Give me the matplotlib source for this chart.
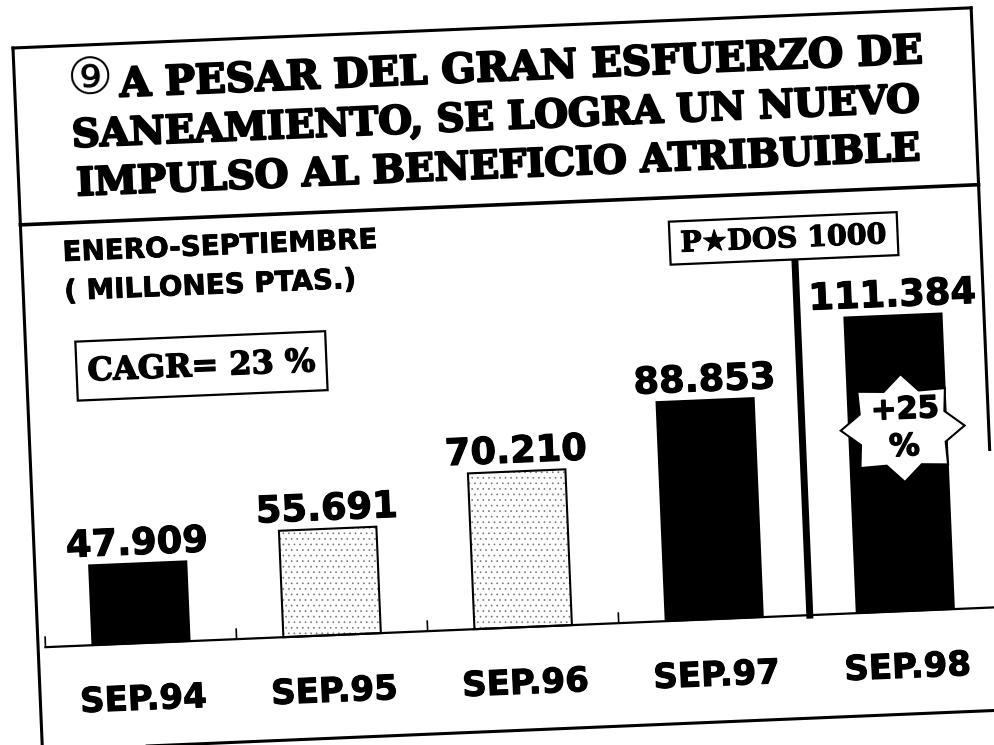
import matplotlib
matplotlib.use("Agg")
import matplotlib.pyplot as plt
import matplotlib.patheffects as pe
import numpy as np
from matplotlib.transforms import Affine2D
from matplotlib.patches import Rectangle, Polygon

# Beneficio atribuible enero-septiembre, millones de pesetas
periodos = ["SEP.94", "SEP.95", "SEP.96", "SEP.97", "SEP.98"]
beneficio = [47909, 55691, 70210, 88853, 111384]
relleno = ["solid", "stipple", "stipple", "solid", "solid"]

titulo = ["A PESAR DEL GRAN ESFUERZO DE",
          "SANEAMIENTO, SE LOGRA UN NUEVO",
          "IMPULSO AL BENEFICIO ATRIBUIBLE"]
numero = "⑨"
subtitulo = ["ENERO-SEPTIEMBRE", "( MILLONES PTAS.)"]
cagr_texto = "CAGR= 23 %"
plan_texto = "P★DOS 1000"
crecimiento_texto = ["+25", "%"]

# value axis does not start at zero
Y_MIN = 24400
Y_MAX = 129000

W, H = 995, 745
TILT = 2.4          # the whole sheet is slightly turned
SERIF = ["DejaVu Serif", "DejaVu Sans"]
SANS = ["DejaVu Sans"]

plt.rcParams["hatch.linewidth"] = 0.5


def heavy(w):
    return [pe.withStroke(linewidth=w, foreground="black")]


fig = plt.figure(figsize=(W / 100, H / 100), dpi=100)
fig.patch.set_facecolor("white")
tilt = Affine2D().rotate_deg_around(W / 2, H / 2, TILT)

# bar chart layer
ax = fig.add_axes([34.4 / W, (H - 628) / H, (990.6 - 34.4) / W, (628 - 272) / H])
ax.set_xlim(-0.5, 4.5)
ax.set_ylim(Y_MIN, Y_MAX)
ax.axis("off")
ct = ax.transData + tilt
units_per_px = (Y_MAX - Y_MIN) / (628 - 272)

# sheet layer on top, pixel units with y pointing down
page = fig.add_axes([0, 0, 1, 1])
page.set_xlim(0, W)
page.set_ylim(H, 0)
page.axis("off")
page.set_zorder(2)
pt = page.transData + tilt


def page_line(xs, ys, lw=2.2):
    page.plot(xs, ys, color="black", lw=lw, transform=pt, clip_on=False,
              solid_capstyle="projecting")


def page_text(x, y, s, size, family, stroke=0.0, weight="bold", **kw):
    t = page.text(x, y, s, fontsize=size, family=family, fontweight=weight,
                  rotation=TILT, rotation_mode="anchor", transform=pt,
                  clip_on=False, **kw)
    if stroke:
        t.set_path_effects(heavy(stroke))
    return t


# outer frame and title separator
left, right, top, bottom = 27, 986, 28, 731
page_line([left, right], [top, top])
page_line([left, left], [top, bottom])
page_line([right, right], [top, 470])
page_line([left, right], [bottom, bottom])
page_line([left, right], [205, 205], lw=2.6)

page_text(102, 63, numero, 37, SANS, weight="normal", ha="center", va="center")
page_text(534, 70, titulo[0], 29, SERIF, stroke=1.6, ha="center", va="center")
for k, line in enumerate(titulo[1:], start=1):
    page_text(507, 70 + 48.5 * k, line, 27.8, SERIF, stroke=1.6,
              ha="center", va="center")

for k, line in enumerate(subtitulo):
    page_text(68, 221 + 39 * k, line, 20, SANS, stroke=0.6, ha="left", va="top")

# boxed notes
page.add_patch(Rectangle((77, 324), 250, 59, fc="white", ec="black", lw=1.6,
                         transform=pt, clip_on=False))
page_text(202, 355, cagr_texto, 23, SERIF, stroke=1.0, ha="center", va="center")

page.add_patch(Rectangle((675, 229), 228, 43, fc="white", ec="black", lw=1.6,
                         transform=pt, clip_on=False, zorder=3))
page_text(789, 252, plan_texto, 20.5, SERIF, stroke=0.8, ha="center", va="center", zorder=4)

for i, (v, fill) in enumerate(zip(beneficio, relleno)):
    if fill == "solid":
        ax.bar(i, v - Y_MIN, bottom=Y_MIN, width=0.51, color="black",
               edgecolor="black", lw=1.2, transform=ct, clip_on=False)
    else:
        ax.bar(i, v - Y_MIN, bottom=Y_MIN, width=0.51, color="white",
               edgecolor="#7a7a7a", hatch="...", lw=0, transform=ct, clip_on=False)
        ax.bar(i, v - Y_MIN, bottom=Y_MIN, width=0.51, fill=False,
               edgecolor="black", lw=1.5, transform=ct, clip_on=False)
    label = f"{v:,}".replace(",", ".")
    t = ax.text(i, v + 9 * units_per_px, label, ha="center", va="baseline",
                fontsize=26.5, fontweight="bold", family=SANS,
                rotation=TILT, rotation_mode="anchor", transform=ct, clip_on=False)
    t.set_path_effects(heavy(0.8))
    t = ax.text(i, Y_MIN - 57 * units_per_px, periodos[i], ha="center", va="center",
                fontsize=24.5, fontweight="bold", family=SANS,
                rotation=TILT, rotation_mode="anchor", transform=ct, clip_on=False)
    t.set_path_effects(heavy(0.8))

# category axis with small ticks between groups
ax.plot([-0.5, 4.5], [Y_MIN, Y_MIN], color="black", lw=1.6,
        transform=ct, clip_on=False)
for b in [-0.5, 0.5, 1.5, 2.5]:
    ax.plot([b, b], [Y_MIN, Y_MIN + 10 * units_per_px], color="black", lw=1.2,
            transform=ct, clip_on=False)

# divider before the current period
ax.plot([3.5, 3.5], [Y_MIN, Y_MAX], color="black", lw=5,
        transform=ct, clip_on=False)

# growth badge on the last bar
cx, cy, rx, ry = 900, 445, 62, 54
ang = np.pi / 2 + np.arange(16) * np.pi / 8
rad = np.where(np.arange(16) % 2 == 0, 1.0, 0.74)
star = np.column_stack([cx + rx * rad * np.cos(ang), cy - ry * rad * np.sin(ang)])
page.add_patch(Polygon(star, closed=True, fc="white", ec="black", lw=1.5,
                       transform=pt, clip_on=False, zorder=5))
page_text(903, 427, crecimiento_texto[0], 22, SANS, stroke=1.0, ha="center", va="center", zorder=6)
page_text(901, 464, crecimiento_texto[1], 22, SANS, stroke=1.0, ha="center", va="center", zorder=6)

fig.savefig("out.png", dpi=100, facecolor="white")
